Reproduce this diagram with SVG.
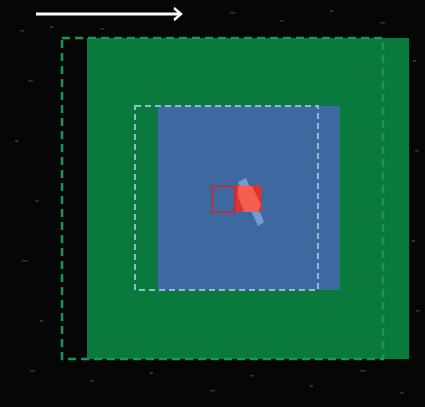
<svg xmlns="http://www.w3.org/2000/svg" width="425" height="407" viewBox="0 0 425 407">
<defs>
<style>
.speck{fill:#8a8a8a;opacity:0.35}
.gdash{fill:none;stroke:#17955a;stroke-width:2.5;stroke-dasharray:8 5}
.bdash{fill:none;stroke:#8fbbd8;stroke-width:2;stroke-dasharray:6 4}
</style>
<marker id="arrowhead" viewBox="0 0 10 10" refX="8.5" refY="5" markerWidth="3.6" markerHeight="5" orient="auto" markerUnits="strokeWidth" preserveAspectRatio="none">
<path d="M2,1 L8.5,5 L2,9" fill="none" stroke="#ffffff" stroke-width="1.8"/>
</marker>
</defs>
<rect x="0" y="0" width="425" height="407" fill="#060606"/>
<g id="speckles">
<rect class="speck" x="20" y="30" width="4" height="1.5"/>
<rect class="speck" x="28" y="80" width="5" height="1.5"/>
<rect class="speck" x="15" y="140" width="3" height="2"/>
<rect class="speck" x="35" y="200" width="4" height="1.5"/>
<rect class="speck" x="22" y="260" width="6" height="1.5"/>
<rect class="speck" x="40" y="320" width="3" height="2"/>
<rect class="speck" x="30" y="370" width="5" height="1.5"/>
<rect class="speck" x="90" y="380" width="4" height="1.5"/>
<rect class="speck" x="150" y="372" width="3" height="2"/>
<rect class="speck" x="210" y="390" width="5" height="1.5"/>
<rect class="speck" x="250" y="375" width="4" height="1.5"/>
<rect class="speck" x="310" y="385" width="3" height="2"/>
<rect class="speck" x="360" y="370" width="6" height="1.5"/>
<rect class="speck" x="400" y="392" width="4" height="1.5"/>
<rect class="speck" x="413" y="60" width="3" height="2"/>
<rect class="speck" x="415" y="150" width="4" height="1.5"/>
<rect class="speck" x="412" y="240" width="3" height="2"/>
<rect class="speck" x="416" y="310" width="4" height="1.5"/>
<rect class="speck" x="230" y="12" width="5" height="1.5"/>
<rect class="speck" x="280" y="20" width="4" height="1.5"/>
<rect class="speck" x="330" y="10" width="3" height="2"/>
<rect class="speck" x="380" y="22" width="5" height="1.5"/>
<rect class="speck" x="100" y="28" width="4" height="1.5"/>
<rect class="speck" x="50" y="26" width="3" height="2"/>
</g>
<g id="green-region">
<rect x="87" y="38" width="322" height="321" fill="#0a7a3c"/>
<rect class="gdash" x="62" y="38" width="321" height="321"/>
</g>
<g id="blue-region">
<rect x="158" y="106" width="182" height="184" fill="#3e68a0"/>
<rect class="bdash" x="135" y="106" width="183" height="184"/>
</g>
<g id="red-target">
<polygon points="238,182 246,178 264,222 258,226" fill="#9cc0e8" opacity="0.6"/>
<rect x="235" y="186" width="26" height="26" fill="#ee2e24" opacity="0.92"/>
<polygon points="238,186 252,186 261,205 258,212 244,212 238,196" fill="#f8745c" opacity="0.7"/>
<rect x="212" y="186" width="23" height="26" fill="none" stroke="#d0232a" stroke-width="1.5"/>
</g>
<g id="connectors">
<line x1="36" y1="14" x2="181" y2="14" stroke="#ffffff" stroke-width="3" marker-end="url(#arrowhead)"/>
</g>
</svg>
